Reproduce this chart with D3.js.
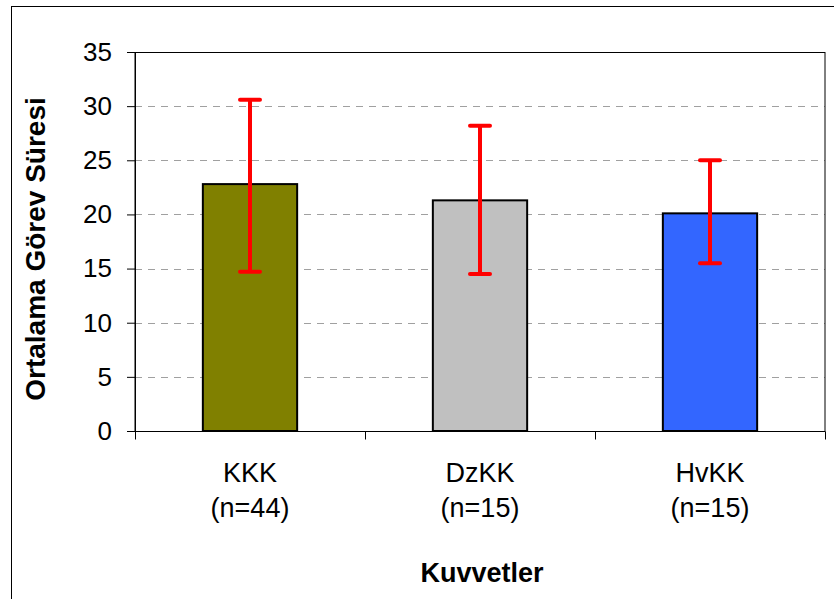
<!DOCTYPE html>
<html>
<head>
<meta charset="utf-8">
<script src="https://cdn.jsdelivr.net/npm/d3@7"></script>
<style>
body{margin:0;background:#fff;}
text{font-family:"Liberation Sans",Arial,sans-serif;}
</style>
</head>
<body>
<svg id="chart" width="834" height="599"></svg>
<script>
// veriler
var categories=["KKK","DzKK","HvKK"];
var sampleLabels=["(n=44)","(n=15)","(n=15)"];
var means=[22.8,21.3,20.1];
var upper=[30.6,28.2,25.0];
var lower=[14.7,14.5,15.5];
var colors=["#808000","#c0c0c0","#3366ff"];
var yTicks=[0,5,10,15,20,25,30,35];

var LEFT=135,RIGHT=825,TOP=52,BOTTOM=431;
var svg=d3.select("#chart");

// dış çerçeve
svg.append("rect")
	.attr("x",11.5).attr("y",6.5)
	.attr("width",840).attr("height",620)
	.attr("fill","#fff").attr("stroke","#000").attr("stroke-width",1);

var x=d3.scaleBand().domain(categories).range([LEFT,RIGHT]).paddingInner(0).paddingOuter(0);
var y=d3.scaleLinear().domain([0,35]).range([BOTTOM,TOP]);
var barW=x.bandwidth()*0.41;

// ızgara çizgileri
svg.selectAll(".grid")
	.data(yTicks.filter(function(d){return d>0&&d<35;}))
	.enter().append("line")
	.attr("x1",LEFT).attr("x2",RIGHT)
	.attr("y1",function(d){return Math.round(y(d))+0.5;})
	.attr("y2",function(d){return Math.round(y(d))+0.5;})
	.attr("stroke","#a0a0a0").attr("stroke-width",1)
	.attr("stroke-dasharray","7,6");

// çizim alanı çerçevesi
svg.append("rect")
	.attr("x",LEFT).attr("y",TOP+0.5)
	.attr("width",RIGHT-LEFT).attr("height",BOTTOM-TOP)
	.attr("fill","none").attr("stroke","#000").attr("stroke-width",1);

// y ekseni
var yAxis=svg.append("g")
	.attr("transform","translate("+LEFT+",0)")
	.call(d3.axisLeft(y).tickValues(yTicks).tickSize(8).tickPadding(15));
yAxis.select(".domain").attr("stroke","#000");
yAxis.selectAll("text").style("font-size","26px").attr("fill","#000");

// x ekseni
var xAxis=svg.append("g")
	.attr("transform","translate(0,"+(BOTTOM+0.5)+")");
xAxis.append("line").attr("x1",LEFT).attr("x2",RIGHT).attr("stroke","#000");
var tickPos=categories.map(function(c){return x(c);}).concat([RIGHT]);
xAxis.selectAll(".xt").data(tickPos).enter().append("line")
	.attr("x1",function(d){return d+0.5;}).attr("x2",function(d){return d+0.5;})
	.attr("y1",0).attr("y2",8).attr("stroke","#000");

// çubuklar
svg.selectAll(".bar").data(means).enter().append("rect")
	.attr("x",function(d,i){return x(categories[i])+x.bandwidth()/2-barW/2;})
	.attr("y",function(d){return y(d);})
	.attr("width",barW)
	.attr("height",function(d){return y(0)-y(d);})
	.attr("fill",function(d,i){return colors[i];})
	.attr("stroke","#000").attr("stroke-width",2);

// hata çubukları
categories.forEach(function(c,i){
	var cx=x(c)+x.bandwidth()/2;
	svg.append("line")
		.attr("x1",cx).attr("x2",cx)
		.attr("y1",y(upper[i])).attr("y2",y(lower[i]))
		.attr("stroke","#ff0000").attr("stroke-width",4);
	[upper[i],lower[i]].forEach(function(v){
		svg.append("line")
			.attr("x1",cx-10).attr("x2",cx+10)
			.attr("y1",y(v)).attr("y2",y(v))
			.attr("stroke","#ff0000").attr("stroke-width",4)
			.attr("stroke-linecap","round");
	});
	svg.append("text")
		.attr("x",cx).attr("y",482)
		.attr("text-anchor","middle")
		.style("font-size","27px")
		.text(c);
	svg.append("text")
		.attr("x",cx).attr("y",517)
		.attr("text-anchor","middle")
		.style("font-size","27px")
		.text(sampleLabels[i]);
});

// eksen başlıkları
svg.append("text")
	.attr("x",482).attr("y",582)
	.attr("text-anchor","middle")
	.style("font-size","27px").style("font-weight","bold")
	.text("Kuvvetler");
svg.append("text")
	.attr("transform","translate(45,249) rotate(-90)")
	.attr("text-anchor","middle")
	.style("font-size","28px").style("font-weight","bold")
	.text("Ortalama Görev Süresi");
</script>
</body>
</html>
